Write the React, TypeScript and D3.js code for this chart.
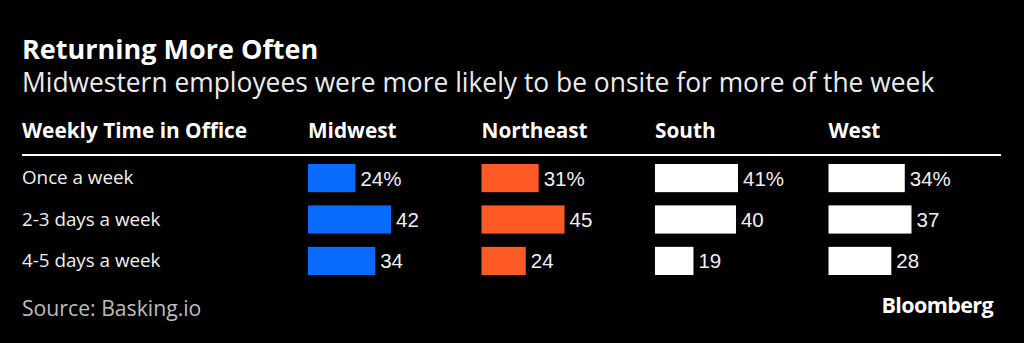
import React from "react";
import * as d3 from "d3";

const regions = ["Midwest", "Northeast", "South", "West"];
const frequencies = ["Once a week", "2-3 days a week", "4-5 days a week"];
const midwest = [24, 42, 34];
const northeast = [31, 45, 24];
const south = [41, 40, 19];
const west = [34, 37, 28];
const seriesValues = [midwest, northeast, south, west];
const colors = ["#0a6cff", "#ff5a26", "#ffffff", "#ffffff"];

const W = 1024;
const H = 343;

export default function App() {
  const colX = d3.scalePoint<string>().domain(regions).range([308, 828.5]);
  const rowY = d3.scaleBand<string>().domain(frequencies).range([164, 275]).paddingInner(0.32).paddingOuter(0);
  const bh = rowY.bandwidth();

  return (
    <svg
      width={W}
      height={H}
      style={{ position: "absolute", left: 0, top: 0, background: "#000" }}
    >
      <rect x={0} y={0} width={W} height={H} fill="#000" />
      <text x={22} y={59} fill="#fff" fontFamily="Open Sans" fontWeight={700} fontSize={27}>
        Returning More Often
      </text>
      <text x={22} y={92} fill="#ececec" fontFamily="Open Sans" fontWeight={400} fontSize={26.4}>
        Midwestern employees were more likely to be onsite for more of the week
      </text>
      <text x={22} y={138} fill="#fff" fontFamily="Open Sans" fontWeight={700} fontSize={20.8}>
        Weekly Time in Office
      </text>
      {regions.map((r) => (
        <text key={r} x={colX(r)} y={138} fill="#fff" fontFamily="Open Sans" fontWeight={700} fontSize={20.8}>
          {r}
        </text>
      ))}
      <rect x={22} y={154} width={979} height={2} fill="#fff" />
      {frequencies.map((f) => (
        <text key={f} x={22} y={(rowY(f) as number) + bh / 2 + 6} fill="#f0f0f0" fontFamily="Open Sans" fontSize={18.8}>
          {f}
        </text>
      ))}
      {regions.map((r, ci) => {
        const vals = seriesValues[ci];
        const x = d3.scaleLinear().domain([0, d3.max(vals) as number]).range([0, 83]);
        const x0 = colX(r) as number;
        return (
          <g key={r}>
            {vals.map((v, i) => {
              const y = rowY(frequencies[i]) as number;
              return (
                <g key={i}>
                  <rect x={x0} y={y} width={x(v)} height={bh} fill={colors[ci]} />
                  <text
                    x={x0 + x(v) + 5}
                    y={y + bh / 2 + 7.5}
                    fill="#f0f0f0"
                    fontFamily="Liberation Sans"
                    fontSize={20.5}
                  >
                    {i === 0 ? `${v}%` : `${v}`}
                  </text>
                </g>
              );
            })}
          </g>
        );
      })}
      <text x={22} y={316} fill="#bdbdbd" fontFamily="Open Sans" fontSize={21.2}>
        Source: Basking.io
      </text>
      <text x={993} y={313} textAnchor="end" fill="#fff" fontFamily="Open Sans" fontWeight={700} fontSize={21.5} letterSpacing={-0.6}>
        Bloomberg
      </text>
    </svg>
  );
}
